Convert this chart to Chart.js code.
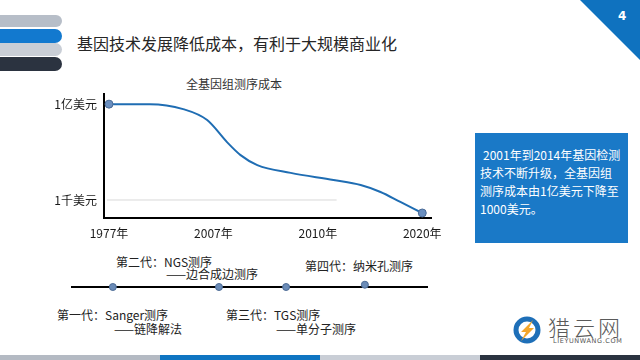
<!DOCTYPE html>
<html>
<head>
<meta charset="utf-8">
<script src="https://cdn.jsdelivr.net/npm/chart.js@4.4.0/dist/chart.umd.min.js"></script>
<style>
  body { margin: 0; width: 640px; height: 360px; overflow: hidden; background: #fff; position: relative;
         font-family: "Noto Sans CJK SC", "Microsoft YaHei", sans-serif; color: #222; }
  .abs { position: absolute; white-space: nowrap; }
  .stripe { position: absolute; left: 0; width: 62px; border-radius: 0 7px 7px 0; }
  .gen { position: absolute; white-space: nowrap; font-size: 12px; line-height: 14px; color: #222; }
  .foot { position: absolute; top: 355px; height: 5px; width: 160px; }
</style>
</head>
<body>

<!-- slide decoration -->
<div class="stripe" style="top:15px;height:12px;background:#b7bec8"></div>
<div class="stripe" style="top:29px;height:14px;background:#1279cf"></div>
<div class="stripe" style="top:43px;height:13px;background:#c9ced6"></div>
<div class="stripe" style="top:57px;height:14px;background:#2b3340"></div>
<div class="abs" style="left:580px;top:0;width:60px;height:60px;background:#0f72bf;clip-path:polygon(0 0,100% 0,100% 100%)"></div>
<div class="abs" style="left:618px;top:9px;font-size:12px;font-weight:bold;color:#fff;font-family:'DejaVu Sans',sans-serif">4</div>

<div class="abs" style="left:77px;top:33px;font-size:16px;line-height:20px;color:#262626">基因技术发展降低成本，有利于大规模商业化</div>
<div class="abs" style="left:186px;top:76px;font-size:12px;line-height:16px;color:#333">全基因组测序成本</div>

<canvas id="costChart" class="abs" style="left:36px;top:80px" width="414" height="170"></canvas>

<!-- timeline -->
<div class="gen" style="left:116px;top:255px">第二代：NGS测序</div>
<div class="gen" style="left:166px;top:267px">——边合成边测序</div>
<div class="gen" style="left:305px;top:259px">第四代：纳米孔测序</div>
<div class="gen" style="left:57px;top:308px">第一代：Sanger测序</div>
<div class="gen" style="left:114px;top:322px">——链降解法</div>
<div class="gen" style="left:226px;top:308px">第三代：TGS测序</div>
<div class="gen" style="left:276px;top:322px">——单分子测序</div>
<canvas id="genChart" class="abs" style="left:67px;top:263px" width="365" height="30"></canvas>

<!-- side note -->
<div class="abs" style="left:475px;top:133px;width:153px;height:110px;background:#1a79c7"></div>
<div class="abs" style="left:480px;top:146px;font-size:12px;line-height:18px;color:#fff">
  <div style="text-indent:3px">2001年到2014年基因检测</div>
  <div>技术不断升级，全基因组</div>
  <div>测序成本由1亿美元下降至</div>
  <div>1000美元。</div>
</div>

<!-- logo -->
<svg class="abs" style="left:512px;top:315px" width="30" height="30" viewBox="0 0 30 30">
  <circle cx="15" cy="15" r="11" fill="none" stroke="#1e6fb8" stroke-width="5"/>
  <path d="M21 5 L9 17 L14 17 L9 26 L22 13 L17 13 Z" fill="#f4a62a"/>
</svg>
<div class="abs" style="left:548px;top:314px;font-size:22px;line-height:24px;letter-spacing:3px;color:#5a5a5a;font-weight:300">猎云网</div>
<div class="abs" style="left:553px;top:337px;font-size:6.5px;letter-spacing:0.6px;color:#555;font-family:'DejaVu Sans',sans-serif">LIEYUNWANG.COM</div>

<div class="foot" style="left:0;background:#b4bac3"></div>
<div class="foot" style="left:160px;background:#0f75c2"></div>
<div class="foot" style="left:320px;background:#c9ced6"></div>
<div class="foot" style="left:480px;background:#2b3340"></div>

<script>
// x axis categories, evenly spaced (index 0..3)
const categories = ['1977年', '2007年', '2010年', '2020年'];

// cost curve: position along the axis and cost in US dollars
const costX = [0, 0.39, 0.71, 0.94, 1.13, 1.26, 1.42, 1.74, 2.15, 2.41, 2.60, 2.79, 3];
const costValues = [1e8, 1e8, 5.5e7, 1.48e7, 1.05e6, 2.2e5, 6.6e4, 2.6e4, 1.1e4, 6e3, 2.6e3, 790, 210];

// y axis ticks
const yTickValues = [1000, 1e8];
const yTickLabels = ['1千美元', '1亿美元'];

// light guide line at 1千美元 (spans only part of the plot)
const guideX = [-0.02, 2.18];

// sequencing generations on the timeline (0..100 along the line)
const genNames = ['第一代', '第二代', '第三代', '第四代'];
const genPos = [11.5, 41.4, 60.3, 82.5];
const genLevel = [0, 0, 0, 0.12];

const lastIdx = costX.length - 1;

new Chart(document.getElementById('costChart'), {
    type: 'line',
    data: {
        datasets: [{
            data: costX.map((x, i) => ({ x: x, y: costValues[i] })),
            borderColor: '#1f6db3',
            borderWidth: 2,
            cubicInterpolationMode: 'monotone',
            pointRadius: ctx => (ctx.dataIndex === 0 || ctx.dataIndex === lastIdx) ? 4 : 0,
            pointBackgroundColor: '#6a8fc0',
            pointBorderColor: '#4a6b96',
            pointBorderWidth: 1,
            clip: false
        }, {
            data: guideX.map(x => ({ x: x, y: yTickValues[0] })),
            borderColor: '#d9d9d9',
            borderWidth: 1,
            pointRadius: 0
        }]
    },
    options: {
        responsive: false,
        animation: false,
        layout: { padding: { top: 0, right: 15 } },
        plugins: { legend: { display: false }, tooltip: { enabled: false } },
        scales: {
            x: {
                type: 'linear',
                min: -0.048,
                max: 3.086,
                afterBuildTicks: scale => { scale.ticks = categories.map((c, i) => ({ value: i })); },
                afterFit: scale => { scale.height = 32; },
                ticks: {
                    callback: v => categories[v],
                    padding: 8,
                    autoSkip: false,
                    maxRotation: 0,
                    color: '#1a1a1a',
                    font: { size: 12, family: '"Noto Sans CJK SC", sans-serif' }
                },
                grid: { drawOnChartArea: false, drawTicks: false },
                border: { color: '#000', width: 2 }
            },
            y: {
                type: 'logarithmic',
                min: 115,
                max: 3.3e8,
                afterBuildTicks: scale => { scale.ticks = yTickValues.map(v => ({ value: v })); },
                afterFit: scale => { scale.width = 68; },
                ticks: {
                    callback: v => yTickLabels[yTickValues.indexOf(v)],
                    padding: 7,
                    color: '#1a1a1a',
                    font: { size: 12, family: '"Noto Sans CJK SC", sans-serif' }
                },
                grid: { drawOnChartArea: false, drawTicks: false },
                border: { color: '#000', width: 2 }
            }
        }
    }
});

new Chart(document.getElementById('genChart'), {
    type: 'scatter',
    data: {
        labels: genNames,
        datasets: [{
            data: genPos.map((x, i) => ({ x: x, y: genLevel[i] })),
            pointRadius: 3.5,
            pointBackgroundColor: '#6b8cb8',
            pointBorderColor: '#4b6a94',
            pointBorderWidth: 1,
            clip: false
        }]
    },
    options: {
        responsive: false,
        animation: false,
        layout: { padding: 0 },
        plugins: { legend: { display: false }, tooltip: { enabled: false } },
        scales: {
            x: {
                type: 'linear',
                min: 0,
                max: 100,
                afterFit: scale => { scale.height = 6; },
                ticks: { display: false },
                grid: { drawOnChartArea: false, drawTicks: false },
                border: { color: '#000', width: 2 }
            },
            y: { display: false, min: 0, max: 1 }
        }
    }
});
</script>
</body>
</html>
